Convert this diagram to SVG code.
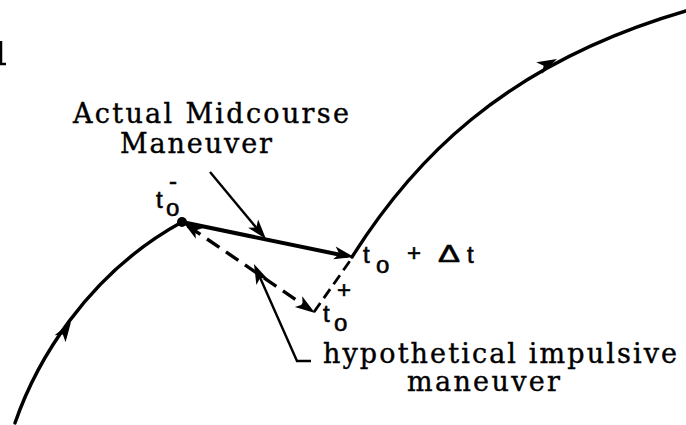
<svg xmlns="http://www.w3.org/2000/svg" width="686" height="425" viewBox="0 0 686 425">
<style>
.traj{fill:none;stroke:#000;stroke-width:3.4;stroke-linecap:round}
.solid{fill:none;stroke:#000;stroke-width:4;stroke-linecap:round}
.dash{fill:none;stroke:#000;stroke-width:3.4;stroke-dasharray:15 8}
.dash2{fill:none;stroke:#000;stroke-width:2.8;stroke-dasharray:11 6}
.ptr{fill:none;stroke:#000;stroke-width:2.4}
.lbl{font-family:"DejaVu Serif","Liberation Serif",serif;font-size:27px;fill:#000;stroke:#000;stroke-width:0.4}
.sym{font-family:"Liberation Sans","DejaVu Sans",sans-serif;font-size:24px;fill:#000;stroke:#000;stroke-width:0.6}
</style>
<defs>
<path id="ah" d="M0,0 L-20,-6.5 L-15,0 L-20,6.5 Z" fill="#000"/>
</defs>
<g id="connectors">
<path id="left-arc" class="traj" d="M15,423 C35,365 85,275 182,222"/>
<use href="#ah" transform="translate(71,322) rotate(-57)"/>
<path id="right-arc" class="traj" d="M352,257 C410,165 500,65 686,11"/>
<use href="#ah" transform="translate(557,59) rotate(-27)"/>
<line id="actual" class="solid" x1="182" y1="222" x2="346" y2="256"/>
<use href="#ah" transform="translate(354,257) rotate(11.6)"/>
<line class="dash" x1="188" y1="226" x2="308" y2="308"/>
<use href="#ah" transform="translate(315,313) rotate(34.5)"/>
<use href="#ah" transform="translate(183,222) rotate(-145.5)"/>
<line class="dash2" x1="314" y1="312" x2="352" y2="258"/>
<circle cx="182" cy="222" r="5" fill="#000"/>
<line class="ptr" x1="210" y1="172" x2="259" y2="231"/>
<use href="#ah" transform="translate(266,239) rotate(50)"/>
<polyline class="ptr" points="311,361 297,361 258,273"/>
<use href="#ah" transform="translate(254,264) rotate(-114.5)"/>
<path d="M1,41 V64 M0,64 H6" stroke="#000" stroke-width="2.5" fill="none"/>
</g>
<g id="label-actual">
<text class="lbl" x="73" y="123" textLength="276" lengthAdjust="spacing">Actual Midcourse</text>
<text class="lbl" x="120" y="153" textLength="152" lengthAdjust="spacing">Maneuver</text>
</g>
<g id="label-t0-minus">
<text class="sym" x="156" y="208">t</text>
<text class="sym" x="166" y="216">o</text>
<text class="sym" x="169" y="189">-</text>
</g>
<g id="label-t0-dt">
<text class="sym" x="363" y="263">t</text>
<text class="sym" x="376" y="273">o</text>
<text class="sym" x="407" y="261">+</text>
<text class="sym" x="438" y="262" textLength="22" lengthAdjust="spacingAndGlyphs">Δ</text>
<text class="sym" x="467" y="263">t</text>
</g>
<g id="label-t0-plus">
<text class="sym" x="337" y="298">+</text>
<text class="sym" x="323" y="322">t</text>
<text class="sym" x="334" y="331">o</text>
</g>
<g id="label-hyp">
<text class="lbl" x="323" y="363" textLength="354" lengthAdjust="spacing">hypothetical impulsive</text>
<text class="lbl" x="407" y="391" textLength="153" lengthAdjust="spacing">maneuver</text>
</g>
</svg>
